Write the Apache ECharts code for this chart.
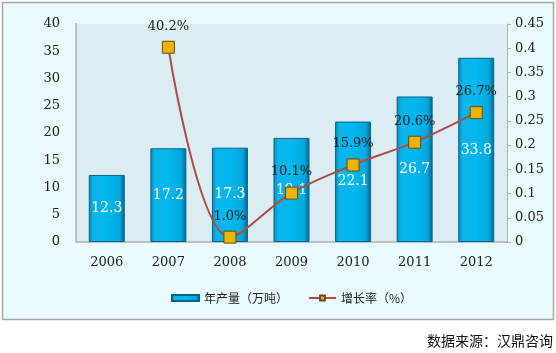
<!DOCTYPE html>
<html>
<head>
<meta charset="utf-8">
<style>
  html, body { margin: 0; padding: 0; background: #fff; }
  #chart { width: 556px; height: 353px; }
</style>
<script src="https://cdn.jsdelivr.net/npm/echarts@6/dist/echarts.min.js"></script>
</head>
<body>
<div id="chart"></div>
<script>
// 年份
var years = ['2006', '2007', '2008', '2009', '2010', '2011', '2012'];
// 年产量（万吨）
var output = [12.3, 17.2, 17.3, 19.1, 22.1, 26.7, 33.8];
// 增长率
var growth = [null, 0.402, 0.010, 0.101, 0.159, 0.206, 0.267];

var serifFont = '"DejaVu Serif", "Liberation Serif", serif';
var cjkFont = '"Noto Sans CJK SC", sans-serif';

var chart = echarts.init(document.getElementById('chart'));
var option = {
  animation: false,
  backgroundColor: '#fff',
  // 外框 + 数据来源
  graphic: [
    {
      type: 'rect',
      z: -10,
      shape: { x: 2.5, y: 2.5, width: 551, height: 317 },
      style: { fill: '#e9fbfd', stroke: '#a3a9ab', lineWidth: 1.5 }
    },
    {
      type: 'rect',
      z: -9,
      shape: { x: 76, y: 24, width: 431, height: 218 },
      style: { fill: '#dbedf3' }
    },
    {
      type: 'text',
      right: 3,
      top: 334,
      style: { text: '数据来源：汉鼎咨询', font: '14px ' + cjkFont, fill: '#111' }
    }
  ],
  grid: {
    left: 76,
    right: 49,
    top: 24,
    bottom: 111
  },
  legend: {
    bottom: 44,
    left: 166,
    itemGap: 20,
    itemWidth: 27,
    itemHeight: 6,
    textStyle: { fontFamily: cjkFont, fontSize: 12, color: '#222' },
    data: [
      { name: '年产量（万吨）', icon: 'rect' },
      { name: '增长率（%）' }
    ]
  },
  xAxis: {
    type: 'category',
    data: years,
    axisLine: { lineStyle: { color: '#b8c2c6', width: 2 } },
    axisTick: { show: false },
    axisLabel: { fontFamily: serifFont, fontSize: 13, color: '#222', margin: 14 }
  },
  yAxis: [
    {
      type: 'value',
      min: 0,
      max: 40,
      interval: 5,
      axisLine: { show: true, lineStyle: { color: '#b8c2c6', width: 2 } },
      axisTick: { show: false },
      splitLine: { show: false },
      axisLabel: { fontFamily: serifFont, fontSize: 13, color: '#222', margin: 16 }
    },
    {
      type: 'value',
      min: 0,
      max: 0.45,
      interval: 0.05,
      axisLine: { show: true, lineStyle: { color: '#a9b4b8' } },
      axisTick: { show: true, length: 4, lineStyle: { color: '#a9b4b8' } },
      splitLine: { show: false },
      axisLabel: {
        fontFamily: serifFont, fontSize: 13, color: '#222', margin: 8,
        formatter: function (v) { return String(+v.toFixed(2)); }
      }
    }
  ],
  series: [
    {
      name: '年产量（万吨）',
      type: 'bar',
      data: output,
      barWidth: 36,
      itemStyle: {
        borderColor: '#0a6488',
        borderWidth: 1,
        color: new echarts.graphic.LinearGradient(0, 0, 1, 0, [
          { offset: 0, color: '#0a86b4' },
          { offset: 0.12, color: '#0cb4ea' },
          { offset: 0.5, color: '#00b8f0' },
          { offset: 0.85, color: '#04a8de' },
          { offset: 1, color: '#06668c' }
        ])
      },
      label: {
        show: true,
        position: 'inside',
        color: '#fff',
        fontFamily: serifFont,
        fontSize: 14
      }
    },
    {
      name: '增长率（%）',
      type: 'line',
      yAxisIndex: 1,
      data: growth,
      smooth: 0.35,
      symbol: 'rect',
      symbolSize: 12,
      lineStyle: { color: '#b24a44', width: 2 },
      itemStyle: { color: '#f0b400', borderColor: '#6a4a10', borderWidth: 1 },
      label: {
        show: true,
        position: 'top',
        distance: 8,
        color: '#222',
        fontFamily: serifFont,
        fontSize: 13,
        formatter: function (p) { return (p.value * 100).toFixed(1) + '%'; }
      },
      z: 5
    }
  ]
};
chart.setOption(option);
</script>
</body>
</html>
